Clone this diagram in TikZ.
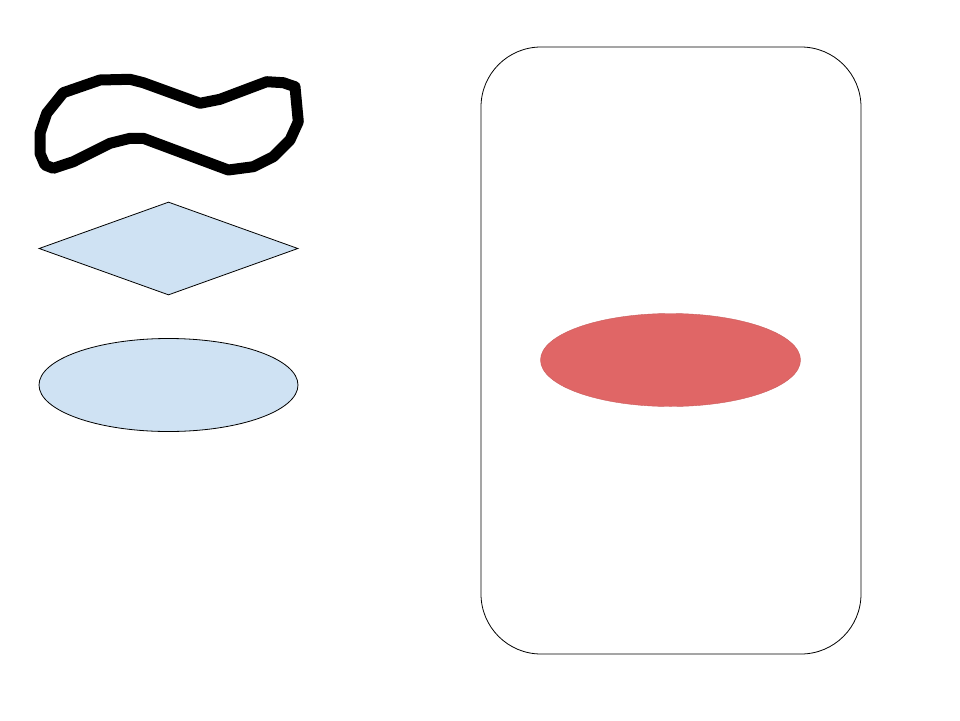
\documentclass[tikz,border=0pt]{standalone}
\usetikzlibrary{shapes.geometric}
\definecolor{lightblue}{HTML}{CFE2F3}
\definecolor{softred}{HTML}{E06666}
\tikzset{
  blob/.style={line width=11pt, line join=round, draw=black},
  bluefill/.style={draw=black, fill=lightblue, line width=0.8pt, inner sep=0pt},
  frame/.style={draw=black, line width=0.8pt, rounded corners=60pt},
  redoval/.style={ellipse, fill=softred, draw=softred!90!black, line width=0.4pt, inner sep=0pt, minimum width=260pt, minimum height=93pt}
}
\begin{document}
\begin{tikzpicture}[x=1pt,y=-1pt]
\useasboundingbox (0,0) rectangle (960,720);
% wavy blob
\draw[blob] (63.3,92.7) -- (100,80) -- (130,79.3) -- (143.3,82.7) -- (200,103.3) -- (220,99.3)
  -- (266.7,81.7) -- (283.3,82.7) -- (295,86.7) -- (298.3,121.7) -- (290,140) -- (273.3,156.7)
  -- (253.3,166.7) -- (228.3,170) -- (143.3,138.3) -- (130,138.3) -- (110,143.3) -- (73.3,161.7)
  -- (53.3,168.3) -- (45,165) -- (40,153.3) -- (40,133.3) -- (46.7,113.3) -- cycle;
% diamond
\node[bluefill, diamond, minimum width=259pt, minimum height=93pt] (dia) at (168.5,248.5) {};
% blue ellipse
\node[bluefill, ellipse, minimum width=259pt, minimum height=93pt] (ell) at (168.5,385) {};
% rounded frame
\draw[frame] (481,47) rectangle (861,654);
% red ellipse
\node[redoval] (red) at (670.5,360) {};
\end{tikzpicture}
\end{document}
